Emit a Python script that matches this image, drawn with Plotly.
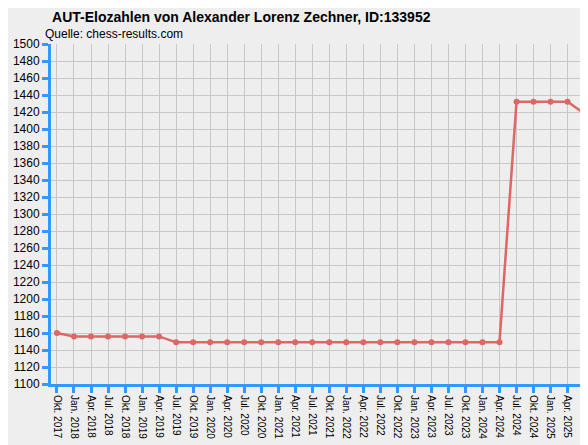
import plotly.graph_objects as go

labels = ["Okt. 2017","Jan. 2018","Apr. 2018","Jul. 2018","Okt. 2018","Jan. 2019","Apr. 2019","Jul. 2019",
          "Okt. 2019","Jan. 2020","Apr. 2020","Jul. 2020","Okt. 2020","Jan. 2021","Apr. 2021","Jul. 2021",
          "Okt. 2021","Jan. 2022","Apr. 2022","Jul. 2022","Okt. 2022","Jan. 2023","Apr. 2023","Jul. 2023",
          "Okt. 2023","Jan. 2024","Apr. 2024","Jul. 2024","Okt. 2024","Jan. 2025","Apr. 2025","Jul. 2025"]
elo = [1160,1156,1156,1156,1156,1156,1156,1149,1149,1149,1149,1149,1149,1149,1149,1149,
       1149,1149,1149,1149,1149,1149,1149,1149,1149,1149,1149,1432,1432,1432,1432,1418]
xs = list(range(len(labels)))

fig = go.Figure(go.Scatter(x=xs, y=elo, mode="lines+markers", cliponaxis=False,
    line=dict(color="#dd6666", width=2.5), marker=dict(color="#dd6666", size=6)))

fig.update_layout(
    width=588, height=445, margin=dict(l=43, r=8, t=36, b=69, autoexpand=False),
    paper_bgcolor="#eeeeee", plot_bgcolor="#eeeeee", showlegend=False,
    font=dict(family="Liberation Sans", size=11, color="black"),
    title=dict(text="<b>AUT-Elozahlen von Alexander Lorenz Zechner, ID:133952</b>",
               x=0.075, xanchor="left", y=0.99, yanchor="top", font=dict(size=14)),
    annotations=[dict(text="Quelle: chess-results.com", xref="paper", yref="paper",
                      x=-0.015, y=1.003, xanchor="left", yanchor="bottom", showarrow=False,
                      font=dict(size=12))],
)
fig.update_xaxes(range=[-0.35, 31.2], tickvals=xs, ticktext=labels, tickangle=90,
    showgrid=True, gridcolor="#c8c8c8", gridwidth=1, zeroline=False, automargin=False,
    ticks="outside", ticklen=6, tickwidth=3, tickcolor="#3399ff",
    showline=True, linecolor="#3399ff", linewidth=3, tickfont=dict(size=10))
fig.update_yaxes(range=[1100, 1500], dtick=20,
    showgrid=True, gridcolor="#c8c8c8", gridwidth=1, zeroline=False, automargin=False,
    ticks="outside", ticklen=6, tickwidth=3, tickcolor="#3399ff",
    showline=True, linecolor="#3399ff", linewidth=3, tickfont=dict(size=12))

fig.write_html("out.html")
